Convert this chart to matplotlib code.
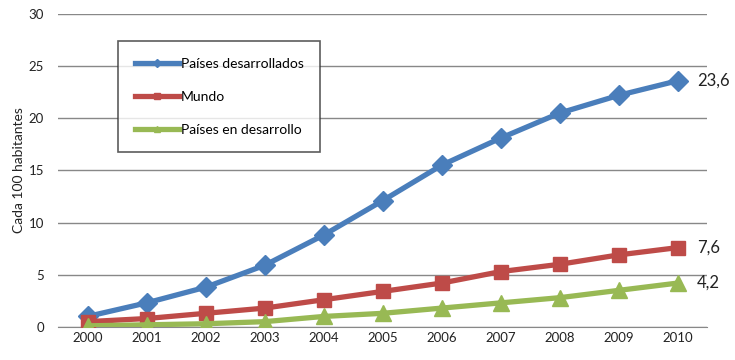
import numpy as np
import matplotlib
matplotlib.use("Agg")
import matplotlib.pyplot as plt
from matplotlib.lines import Line2D

plt.rcParams['font.family'] = ['Lato', 'DejaVu Sans']

years = [2000, 2001, 2002, 2003, 2004, 2005, 2006, 2007, 2008, 2009, 2010]
desarrollados = [1.0, 2.3, 3.8, 5.9, 8.8, 12.1, 15.5, 18.1, 20.5, 22.2, 23.6]
mundo = [0.5, 0.8, 1.3, 1.8, 2.6, 3.4, 4.2, 5.3, 6.0, 6.9, 7.6]
en_desarrollo = [0.1, 0.2, 0.3, 0.5, 1.0, 1.3, 1.8, 2.3, 2.8, 3.5, 4.2]

names = ['Países desarrollados', 'Mundo', 'Países en desarrollo']
colors = ['#4A7EBB', '#BE4B48', '#98B954']
markers = ['D', 's', '^']
msizes = [10, 10, 11]
series = [desarrollados, mundo, en_desarrollo]
end_labels = ['23,6', '7,6', '4,2']

fig = plt.figure(figsize=(7.35, 3.6), dpi=100)
ax = fig.add_axes([0.079, 0.092, 0.883, 0.869])

x = np.arange(len(years))
handles = []
for vals, c, m, ms, name in zip(series, colors, markers, msizes, names):
    ax.plot(x, vals, color=c, lw=3.8, marker=m, markersize=ms, zorder=3,
            solid_capstyle='round')
    handles.append(Line2D([], [], color=c, lw=3.8, marker=m, markersize=4,
                          label=name))

# etiquetas al final de cada serie
for vals, lab in zip(series, end_labels):
    ax.annotate(lab, (x[-1], vals[-1]), xytext=(14, 0), textcoords='offset points',
                va='center', ha='left', fontsize=12, color='#222222')

ax.set_xlim(-0.5, 10.5)
ax.set_ylim(0, 30)
ax.set_yticks(range(0, 31, 5))
ax.set_xticks(x)
ax.set_xticklabels([str(y) for y in years])
ax.tick_params(length=0, labelsize=9.5, colors='#222222')
ax.tick_params(axis='y', pad=10)
ax.yaxis.grid(True, color='#888888', lw=1)
ax.set_axisbelow(True)
for s in ['top', 'right', 'left']:
    ax.spines[s].set_visible(False)
ax.spines['bottom'].set_color('#888888')
ax.set_ylabel('Cada 100 habitantes', fontsize=10, color='#222222', labelpad=3)

leg = ax.legend(handles=handles, loc='upper left', bbox_to_anchor=(0.082, 0.935),
                frameon=True, fancybox=False, edgecolor='#333333',
                handlelength=3.2, handletextpad=0.1, labelspacing=1.5,
                borderpad=1.2, fontsize=10)
leg.get_frame().set_linewidth(1.2)

fig.savefig('out.png', dpi=100)
